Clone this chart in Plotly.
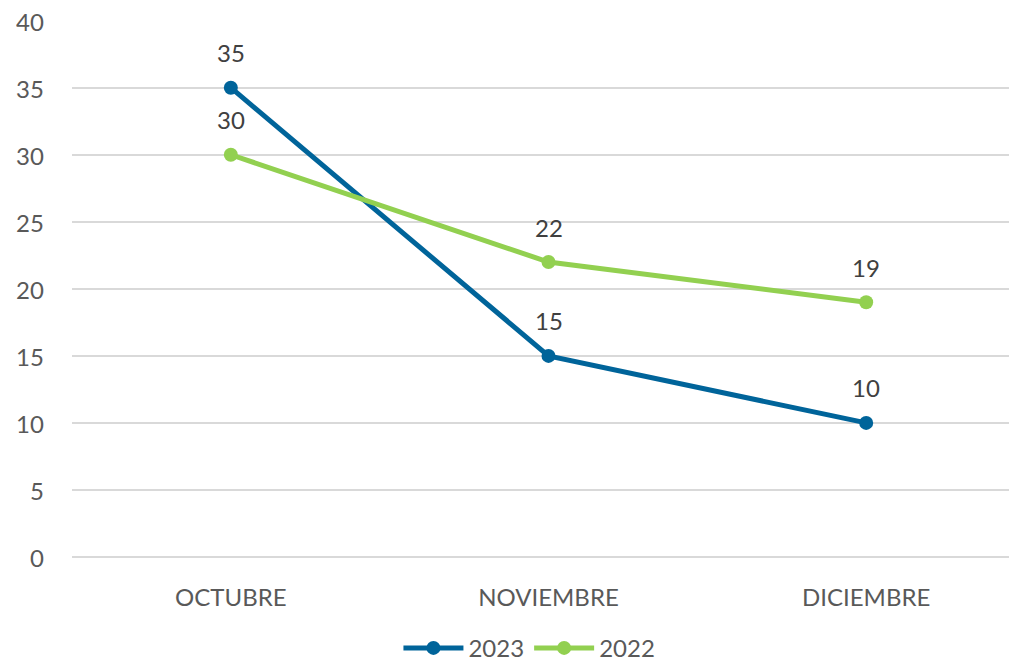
import plotly.graph_objects as go

categories = ["OCTUBRE", "NOVIEMBRE", "DICIEMBRE"]
values_2023 = [35, 15, 10]
values_2022 = [30, 22, 19]
y_ticks = [0, 5, 10, 15, 20, 25, 30, 35, 40]

c2023 = "#00649A"
c2022 = "#92D050"
txt = "#595959"
font_family = "Lato"

fig = go.Figure()
for name, vals, col in [("2023", values_2023, c2023), ("2022", values_2022, c2022)]:
    fig.add_trace(go.Scatter(
        x=categories, y=vals, name=name, mode="lines+markers",
        line=dict(color=col, width=5),
        marker=dict(color=col, size=14),
    ))
    for c, v in zip(categories, vals):
        fig.add_annotation(x=c, y=v, text=str(v), showarrow=False,
                           yshift=35, font=dict(size=24, color="#404040", family=font_family))

# y tick labels placed through the y axis scale
for t in y_ticks:
    fig.add_annotation(x=0, xref="paper", y=t, yref="y", text=str(t), showarrow=False,
                       xanchor="right", yanchor="middle", xshift=-27, height=22,
                       borderpad=0,
                       font=dict(size=24, color=txt, family=font_family))

fig.update_layout(
    width=1017, height=666,
    margin=dict(l=64, r=0, t=12, b=117, autoexpand=False),
    paper_bgcolor="white", plot_bgcolor="white",
    font=dict(family=font_family, size=22, color=txt),
    showlegend=True,
    legend=dict(orientation="h", x=0.48, xanchor="center", y=-0.17, yanchor="middle",
                font=dict(size=24, color=txt), itemwidth=60, traceorder="normal"),
)
fig.update_xaxes(type="category", range=[-0.5, 2.5], showgrid=False,
                 showline=False, ticks="", ticklabelstandoff=24, automargin=False,
                 tickfont=dict(size=24, color=txt))
fig.update_yaxes(range=[0, 40.05], tickvals=y_ticks, showticklabels=False,
                 showgrid=True, gridcolor="#D9D9D9",
                 gridwidth=2, zeroline=True, zerolinecolor="#D9D9D9", zerolinewidth=2,
                 showline=False, ticks="", automargin=False)

fig.write_html("out.html")
